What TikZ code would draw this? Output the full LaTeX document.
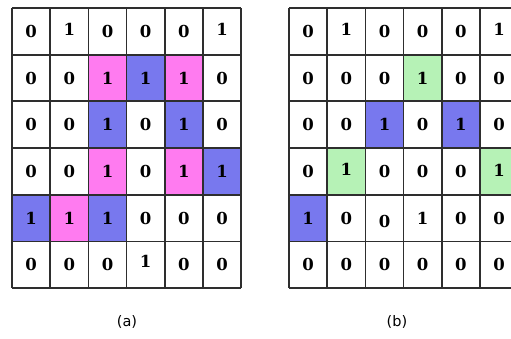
\documentclass[tikz,border=0pt]{standalone}
\usepackage{fontspec}
\setmainfont{DejaVu Serif}
\newfontfamily\labfont{DejaVu Sans}
\definecolor{pinkc}{HTML}{FF7BF0}
\definecolor{bluec}{HTML}{7878EE}
\definecolor{greenc}{HTML}{B6F2B6}
\definecolor{gridc}{HTML}{2E2E2E}
\tikzset{
  num/.style={font=\bfseries\fontsize{16.5}{18}\selectfont, inner sep=0pt, anchor=center},
  lab/.style={font=\labfont\fontsize{14.5}{16}\selectfont, inner sep=0pt},
  gridline/.style={draw=gridc, line width=1.7pt},
}
\newcommand{\cw}{38.2}
\newcommand{\rh}{46.67}
\begin{document}
\begin{tikzpicture}[x=1pt,y=-1pt]
\useasboundingbox (0,0) rectangle (511,338);
\clip (0,0) rectangle (511,338);
\fill[white] (0,0) rectangle (511,338);
% ---------- grid (a) ----------
\begin{scope}[shift={(12,8)}]
  \foreach \c/\r/\col in {3/2/pinkc,4/2/bluec,5/2/pinkc,3/3/bluec,5/3/bluec,3/4/pinkc,5/4/pinkc,6/4/bluec,1/5/bluec,2/5/pinkc,3/5/bluec}
    \fill[\col] ({(\c-1)*\cw},{(\r-1)*\rh}) rectangle ({\c*\cw},{\r*\rh});
  \foreach \i in {0,...,6} {
    \draw[gridline] ({\i*\cw},0) -- ({\i*\cw},{6*\rh});
    \draw[gridline] (0,{\i*\rh}) -- ({6*\cw},{\i*\rh});
  }
  \foreach \r/\vals in {
      1/{0/0,1/-2,0/0,0/0,0/0,1/-2},
      2/{0/0,0/0,1/0,1/0,1/0,0/0},
      3/{0/0,0/0,1/0,0/0,1/0,0/0},
      4/{0/0,0/0,1/0,0/0,1/0,1/0},
      5/{1/0,1/0,1/0,0/0,0/0,0/0},
      6/{0/0,0/0,0/0,1/-3,0/0,0/0}}
    \foreach \v/\d [count=\c] in \vals
      \node[num] (a\r\c) at ({(\c-0.5)*\cw},{(\r-0.5)*\rh+\d}) {\v};
\end{scope}
% ---------- grid (b) ----------
\begin{scope}[shift={(289,8)}]
  \foreach \c/\r/\col in {4/2/greenc,3/3/bluec,5/3/bluec,2/4/greenc,6/4/greenc,1/5/bluec}
    \fill[\col] ({(\c-1)*\cw},{(\r-1)*\rh}) rectangle ({\c*\cw},{\r*\rh});
  \foreach \i in {0,...,6} {
    \draw[gridline] ({\i*\cw},0) -- ({\i*\cw},{6*\rh});
    \draw[gridline] (0,{\i*\rh}) -- ({6*\cw},{\i*\rh});
  }
  \foreach \r/\vals in {
      1/{0/0,1/-2,0/0,0/0,0/0,1/-2},
      2/{0/0,0/0,0/0,1/0,0/0,0/0},
      3/{0/0,0/0,1/0,0/0,1/0,0/0},
      4/{0/0,1/-2,0/0,0/0,0/0,1/-1},
      5/{1/0,0/0,0/3,1/0,0/0,0/0},
      6/{0/0,0/0,0/0,0/0,0/0,0/0}}
    \foreach \v/\d [count=\c] in \vals
      \node[num] (b\r\c) at ({(\c-0.5)*\cw},{(\r-0.5)*\rh+\d}) {\v};
\end{scope}
\node[lab] (capa) at (127,322) {(a)};
\node[lab] (capb) at (397,322) {(b)};
\end{tikzpicture}
\end{document}
